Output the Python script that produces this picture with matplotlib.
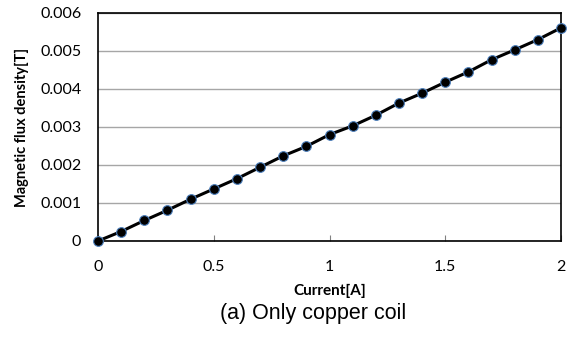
import numpy as np
import matplotlib.pyplot as plt

# Corriente [A] y densidad de flujo magnético [T]
current = [0.0, 0.1, 0.2, 0.3, 0.4, 0.5, 0.6, 0.7, 0.8, 0.9, 1.0,
           1.1, 1.2, 1.3, 1.4, 1.5, 1.6, 1.7, 1.8, 1.9, 2.0]
flux = [0.0, 0.00025, 0.00054, 0.00081, 0.00110, 0.00137, 0.00164, 0.00194,
        0.00224, 0.00249, 0.00280, 0.00303, 0.00331, 0.00363, 0.00389,
        0.00418, 0.00445, 0.00477, 0.00503, 0.00530, 0.00561]

xticks = [0, 0.5, 1, 1.5, 2]
yticks = [0, 0.001, 0.002, 0.003, 0.004, 0.005, 0.006]
ytick_labels = ['0', '0.001', '0.002', '0.003', '0.004', '0.005', '0.006']
xtick_labels = ['0', '0.5', '1', '1.5', '2']

fig = plt.figure(figsize=(5.72, 3.37), dpi=100)
ax = fig.add_axes([98 / 572, 1 - 241 / 337, 463 / 572, 228 / 337])

ax.plot(current, flux, color='black', lw=2.2, marker='o', ms=7,
        mfc='black', mec='#4f81bd', mew=0.8, zorder=3, clip_on=False)

ax.set_xlim(0, 2)
ax.set_ylim(0, 0.006)
ax.set_xticks(xticks)
ax.set_xticklabels(xtick_labels)
ax.set_yticks(yticks)
ax.set_yticklabels(ytick_labels)

ax.grid(axis='y', color='#a6a6a6', lw=1)
ax.set_axisbelow(True)
for s in ax.spines.values():
    s.set_linewidth(1.2)
    s.set_color('black')

ax.tick_params(axis='x', direction='in', length=4, width=0.8, color='#808080', pad=14)
ax.tick_params(axis='y', length=0, pad=12)
for lbl in ax.get_xticklabels() + ax.get_yticklabels():
    lbl.set_family('Lato')
    lbl.set_fontsize(11.5)

ax.set_xlabel('Current[A]', family='Lato', fontweight='bold', fontsize=11, labelpad=7)
ax.set_ylabel('Magnetic flux density[T]', family='Lato', fontweight='bold', fontsize=10.5)
ax.yaxis.set_label_coords(-0.148, 0.5)

fig.text(313 / 572, 1 - 314 / 337, '(a) Only copper coil', family='Liberation Sans',
         fontsize=15.5, ha='center', va='center')

fig.savefig('out.png', dpi=100)
